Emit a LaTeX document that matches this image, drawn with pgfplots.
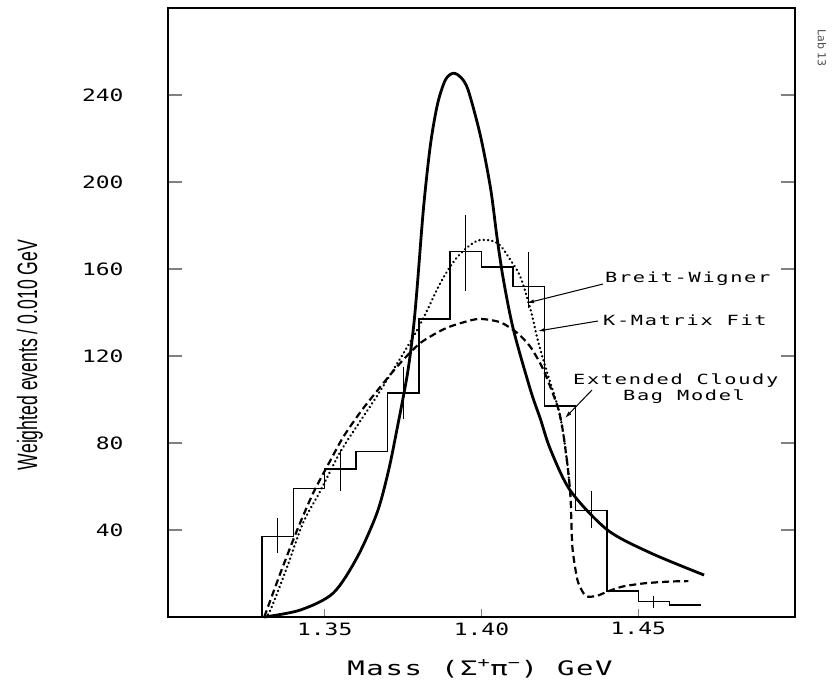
\documentclass[border=0pt]{standalone}
\usepackage{fontspec}
\usepackage{pgfplots}
\pgfplotsset{compat=1.18}
\usetikzlibrary{arrows.meta}
\setmainfont{DejaVu Sans}
\newfontfamily\tickfont[FakeStretch=1.35]{DejaVu Sans Mono}
\newfontfamily\annfont[FakeStretch=1.45,LetterSpace=12]{DejaVu Sans Mono}
\newfontfamily\xlabfont[FakeStretch=1.45,LetterSpace=8]{DejaVu Sans Mono}
\newfontfamily\ylabfont[FakeStretch=0.63]{Liberation Sans}

\begin{document}
\begin{tikzpicture}
\useasboundingbox (0,0) rectangle (836pt,-682pt);
\begin{axis}[
  at={(168pt,-617pt)}, anchor=south west,
  scale only axis, width=627pt, height=609pt,
  xmin=1.30, xmax=1.50, ymin=0, ymax=280,
  xtick={1.35,1.40,1.45}, xticklabels={1.35,1.40,1.45},
  ytick={40,80,120,160,200,240}, yticklabels={40,80,120,160,200,240},
  tick align=inside, xtick pos=bottom, ytick pos=both,
  major tick length=14pt,
  xtick style={/pgfplots/major tick length=8pt, line width=1.2pt},
  ytick style={line width=1.2pt},
  axis line style={line width=1.4pt},
  xticklabel style={font=\tickfont\fontsize{17}{17}\selectfont, yshift=-2pt},
  yticklabel style={font=\tickfont\fontsize{17}{17}\selectfont, anchor=east, xshift=-41pt},
  clip=false,
]
% histogram
\addplot[line width=1.4pt, const plot] coordinates {
 (1.33,0) (1.33,37) (1.34,59) (1.35,68) (1.36,76) (1.37,103) (1.38,137)
 (1.39,168) (1.40,161) (1.41,152) (1.42,97) (1.43,49) (1.44,12) (1.45,7)
 (1.46,5.5) (1.47,5.5)};
% error bars
\addplot[line width=1pt] coordinates {(1.335,29.4) (1.335,45.5)};
\addplot[line width=1pt] coordinates {(1.355,58) (1.355,77)};
\addplot[line width=1pt] coordinates {(1.375,91) (1.375,115)};
\addplot[line width=1pt] coordinates {(1.395,150) (1.395,185)};
\addplot[line width=1pt] coordinates {(1.415,142) (1.415,168)};
\addplot[line width=1pt] coordinates {(1.435,41) (1.435,58)};
\addplot[line width=1pt] coordinates {(1.455,4) (1.455,9.5)};
% solid curve
\addplot[line width=2.8pt, smooth, tension=0.5] coordinates {
 (1.3307,0) (1.3422,3.2) (1.3527,11) (1.3604,27.6) (1.3667,48) (1.3703,67)
 (1.373,86) (1.3764,112) (1.3783,133) (1.3795,152) (1.3815,188) (1.3837,217)
 (1.386,236) (1.3885,247) (1.391,250) (1.3935,248) (1.3958,242) (1.3997,221)
 (1.4029,197) (1.405,174) (1.407,155) (1.4102,132) (1.4157,104) (1.4188,91)
 (1.422,77) (1.4284,58) (1.4402,40) (1.454,29.4) (1.471,19.3)};
% dashed curve
\addplot[line width=2.2pt, dash pattern=on 7pt off 4pt, smooth, tension=0.4] coordinates {
 (1.3307,0) (1.3358,20) (1.3412,40) (1.3463,57) (1.3518,72) (1.356,83)
 (1.3623,96) (1.373,115) (1.3805,126) (1.389,133) (1.3987,137) (1.406,135.5)
 (1.4115,130.5) (1.4157,124) (1.4198,113.5) (1.4243,96.6) (1.4259,86)
 (1.4275,69) (1.4284,55) (1.429,32) (1.4306,17) (1.4325,11) (1.434,9.3)
 (1.437,9.8) (1.44,11.6) (1.445,14) (1.452,15.5) (1.46,16.3) (1.466,16.5)};
% dotted curve
\addplot[line width=2.4pt, dash pattern=on 0.3pt off 4pt, line cap=round, smooth, tension=0.5] coordinates {
 (1.3307,0) (1.3326,3) (1.338,23) (1.343,43) (1.3486,58) (1.355,76)
 (1.3613,90) (1.3677,104) (1.3795,132) (1.3869,153.6) (1.3923,165.5)
 (1.3987,173) (1.405,172) (1.4093,164) (1.4125,156) (1.4157,141) (1.418,127)
 (1.421,112) (1.4243,97) (1.4259,86) (1.4275,69) (1.4284,55)};
\end{axis}
% annotations
\node[anchor=west, inner sep=0, font=\annfont\fontsize{14}{16}\selectfont] at (605pt,-279pt) {Breit-Wigner};
\draw[line width=1pt, -{Latex[length=7pt,width=4pt]}] (603pt,-284pt) -- (527pt,-303pt);
\node[anchor=west, inner sep=0, font=\annfont\fontsize{14}{16}\selectfont] at (603pt,-320pt) {K-Matrix Fit};
\draw[line width=1pt, -{Latex[length=7pt,width=4pt]}] (598pt,-321pt) -- (538pt,-331pt);
\node[anchor=west, inner sep=0, font=\annfont\fontsize{14}{16}\selectfont] at (573pt,-381pt) {Extended Cloudy};
\node[anchor=west, inner sep=0, font=\annfont\fontsize{14}{16}\selectfont] at (623pt,-397pt) {Bag Model};
\draw[line width=1pt, -{Latex[length=7pt,width=4pt]}] (592pt,-390pt) -- (565pt,-418pt);
% axis labels
\node[font=\xlabfont\fontsize{20}{20}\selectfont] at (480pt,-669pt) {Mass (Σ\textsuperscript{+}π\textsuperscript{−}) GeV};
\node[rotate=90, font=\ylabfont\fontsize{28}{28}\selectfont] at (30pt,-355pt) {Weighted events / 0.010 GeV};
\node[rotate=-90, font=\fontsize{11}{11}\selectfont, text=black!70] at (822pt,-48pt) {Lab 13};
\end{tikzpicture}
\end{document}
